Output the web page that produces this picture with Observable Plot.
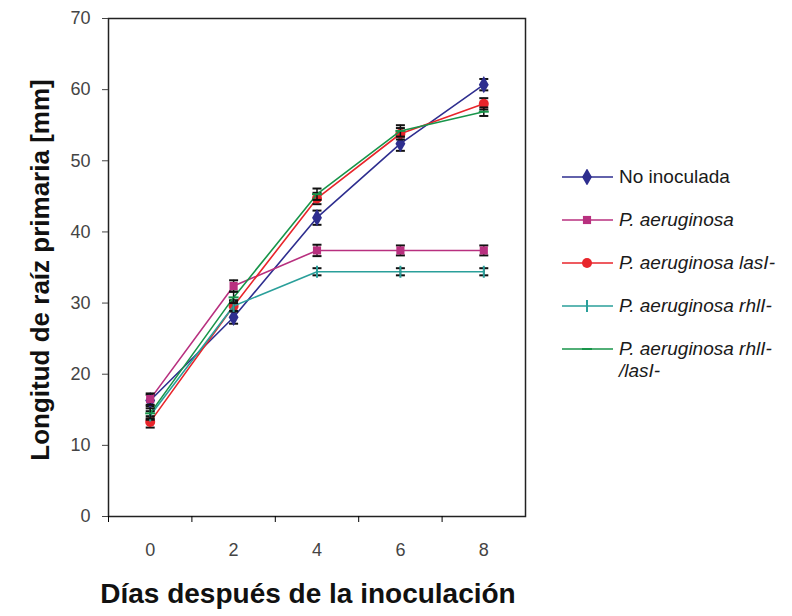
<!DOCTYPE html>
<html>
<head>
<meta charset="utf-8">
<script src="https://cdn.jsdelivr.net/npm/d3@7"></script>
<script src="https://cdn.jsdelivr.net/npm/@observablehq/plot@0.6"></script>
<style>
  html, body { margin: 0; padding: 0; background: #fff; }
  #wrap { position: relative; width: 792px; height: 616px; font-family: "Liberation Sans", Arial, sans-serif; }
  #ytitle { position: absolute; left: 40px; top: 270px; transform: translate(-50%, -50%) rotate(-90deg); white-space: nowrap; font-weight: bold; font-size: 26px; color: #111; }
  #xtitle { position: absolute; left: 308px; top: 594px; transform: translate(-50%, -50%); white-space: nowrap; font-weight: bold; font-size: 28px; color: #111; }
  #legend { position: absolute; left: 562px; top: 166px; font-size: 19px; color: #1a1a1a; }
  .row { display: flex; align-items: flex-start; height: 43px; }
  .row svg { flex: none; margin-top: 3px; }
  .row span { margin-left: 5px; line-height: 22px; white-space: nowrap; }
</style>
</head>
<body>
<div id="wrap">
  <div id="chart"></div>
  <div id="ytitle">Longitud de raíz primaria [mm]</div>
  <div id="xtitle">Días después de la inoculación</div>
  <div id="legend"></div>
</div>
<script>
const days = [0, 2, 4, 6, 8];
const seriesNames = ["No inoculada", "P. aeruginosa", "P. aeruginosa lasI-", "P. aeruginosa rhlI-", "P. aeruginosa rhlI-/lasI-"];
const noInoculada = [16.3, 28.0, 42.0, 52.4, 60.7];
const aeruginosa = [16.5, 32.4, 37.4, 37.4, 37.4];
const lasI = [13.3, 29.6, 44.7, 53.8, 58.0];
const rhlI = [14.2, 29.6, 34.4, 34.4, 34.4];
const rhlIlasI = [14.5, 30.8, 45.3, 54.2, 56.9];
const errNoInoculada = [0.8, 0.9, 1.0, 1.0, 0.8];
const errAeruginosa = [0.8, 0.8, 0.8, 0.7, 0.7];
const errLasI = [0.8, 0.8, 0.8, 0.8, 0.8];
const errRhlI = [0.6, 0.7, 0.5, 0.5, 0.5];
const errRhlIlasI = [0.7, 0.8, 0.8, 0.8, 0.6];
const colors = ["#2e2e8f", "#b8307f", "#e8252b", "#2a9f9a", "#18954a"];
const xTickMarks = [-1, 1, 3, 5, 7];
const yTicks = [0, 10, 20, 30, 40, 50, 60, 70];

const valueSets = [noInoculada, aeruginosa, lasI, rhlI, rhlIlasI];
const errSets = [errNoInoculada, errAeruginosa, errLasI, errRhlI, errRhlIlasI];
const table = [];
seriesNames.forEach((s, i) => days.forEach((d, j) => table.push({
  series: s, day: d, value: valueSets[i][j], lo: valueSets[i][j] - errSets[i][j], hi: valueSets[i][j] + errSets[i][j]
})));

const hline = { draw(ctx, size) { const r = Math.sqrt(size / Math.PI); ctx.moveTo(-r, 0); ctx.lineTo(r, 0); } };
const vline = { draw(ctx, size) { const r = Math.sqrt(size / Math.PI); ctx.moveTo(0, -r); ctx.lineTo(0, r); } };
const markerOf = {
  "No inoculada": {symbol: "diamond", r: 5.2, fill: true},
  "P. aeruginosa": {symbol: "square", r: 4.6, fill: true},
  "P. aeruginosa lasI-": {symbol: "circle", r: 5, fill: true},
  "P. aeruginosa rhlI-": {symbol: vline, r: 6, fill: false},
  "P. aeruginosa rhlI-/lasI-": {symbol: hline, r: 5, fill: false}
};

const marks = [Plot.frame({stroke: "#222", strokeWidth: 1.5})];
seriesNames.forEach((s, i) => {
  const rows = table.filter(d => d.series === s);
  const m = markerOf[s];
  marks.push(Plot.line(rows, {x: "day", y: "value", stroke: colors[i], strokeWidth: 1.6}));
  marks.push(Plot.ruleX(rows, {x: "day", y1: "lo", y2: "hi", stroke: "#111", strokeWidth: 1.5}));
  marks.push(Plot.dot(rows, {x: "day", y: "lo", symbol: hline, r: 4.5, stroke: "#111", strokeWidth: 2}));
  marks.push(Plot.dot(rows, {x: "day", y: "hi", symbol: hline, r: 4.5, stroke: "#111", strokeWidth: 2}));
  if (m.fill) marks.push(Plot.dot(rows, {x: "day", y: "value", symbol: m.symbol, r: m.r, fill: colors[i], stroke: "none"}));
  else marks.push(Plot.dot(rows, {x: "day", y: "value", symbol: m.symbol, r: m.r, stroke: colors[i], strokeWidth: 2}));
});
marks.push(Plot.axisY({ticks: yTicks, tickSize: 6, tickPadding: 12, fontSize: 18, color: "#444", label: null}));
marks.push(Plot.axisX({ticks: xTickMarks, tickSize: 6, tickFormat: () => "", label: null}));
marks.push(Plot.axisX({ticks: days, tickSize: 0, tickPadding: 27, fontSize: 18, color: "#444", label: null}));

const chart = Plot.plot({
  width: 792, height: 616,
  marginLeft: 108, marginRight: 267, marginTop: 18, marginBottom: 100,
  style: {fontFamily: "Liberation Sans, Arial, sans-serif", background: "#fff"},
  x: {domain: [-1, 9]},
  y: {domain: [0, 70]},
  marks
});
document.getElementById("chart").appendChild(chart);

// legend
const leg = document.getElementById("legend");
seriesNames.forEach((s, i) => {
  const row = document.createElement("div");
  row.className = "row";
  const m = markerOf[s];
  const sw = d3.create("svg").attr("width", 52).attr("height", 16);
  sw.append("line").attr("x1", 0).attr("x2", 51).attr("y1", 8).attr("y2", 8).attr("stroke", colors[i]).attr("stroke-width", 1.6);
  const sym = typeof m.symbol === "string" ? {diamond: d3.symbolDiamond, square: d3.symbolSquare, circle: d3.symbolCircle}[m.symbol] : m.symbol;
  const p = sw.append("path").attr("transform", "translate(25,8)").attr("d", d3.symbol(sym, Math.PI * m.r * m.r)());
  if (m.fill) p.attr("fill", colors[i]); else p.attr("fill", "none").attr("stroke", colors[i]).attr("stroke-width", 2);
  row.appendChild(sw.node());
  const t = document.createElement("span");
  if (s === "No inoculada") t.textContent = s;
  else if (s === "P. aeruginosa rhlI-/lasI-") { t.innerHTML = "<i>P. aeruginosa rhlI-<br>/lasI-</i>"; }
  else { t.innerHTML = "<i>" + s + "</i>"; }
  row.appendChild(t);
  leg.appendChild(row);
});
</script>
</body>
</html>
